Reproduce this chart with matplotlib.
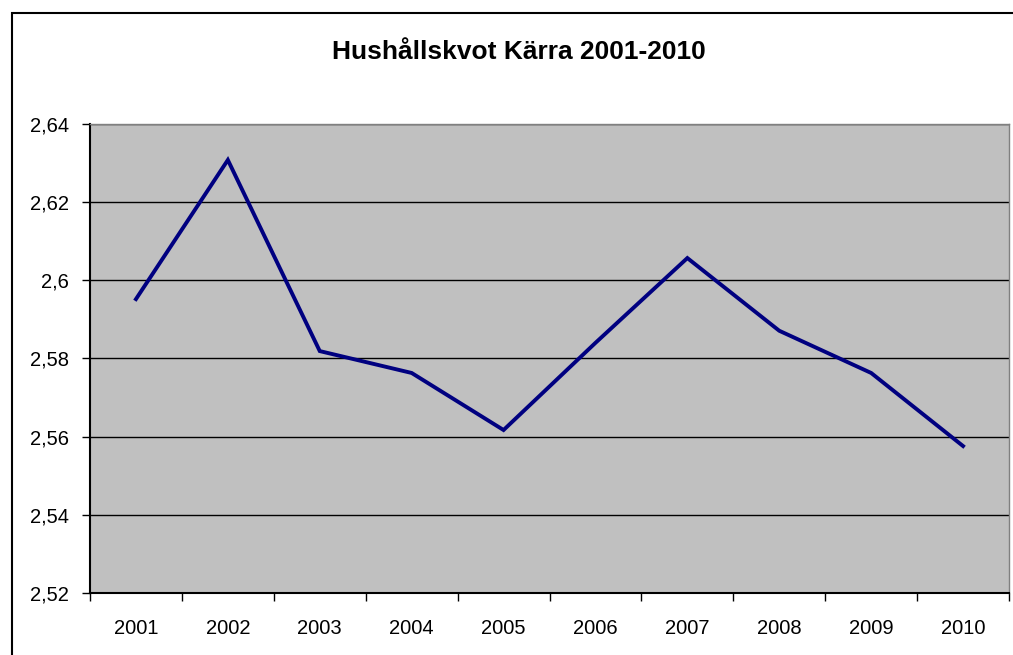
import matplotlib.pyplot as plt
from matplotlib.patches import Rectangle
from matplotlib.ticker import FixedLocator, FuncFormatter

years = ['2001', '2002', '2003', '2004', '2005', '2006', '2007', '2008', '2009', '2010']
hushallskvot = [2.5952, 2.6308, 2.5819, 2.5763, 2.5617, 2.5840, 2.6057, 2.5871, 2.5763, 2.5576]

plt.rcParams['font.family'] = ['Liberation Sans', 'DejaVu Sans']

W, H = 1013, 655
fig = plt.figure(figsize=(W / 100, H / 100), dpi=100)

# outer chart border (right and bottom edges are cut off in the original)
fig.patches.append(Rectangle((11.5 / W, -0.05), 1.1, 1 - 12.5 / H + 0.05,
                             transform=fig.transFigure, fill=False,
                             edgecolor='black', linewidth=1.5))

ax = fig.add_axes([90 / W, 1 - 593 / H, (1009 - 90) / W, (593 - 124) / H])
ax.set_facecolor('#c0c0c0')

x = range(len(years))
ax.plot(x, hushallskvot, color='#000080', linewidth=2.8, solid_joinstyle='miter')

ax.set_xlim(-0.5, len(years) - 0.5)
ax.set_ylim(2.52, 2.64)
ax.set_yticks([2.52, 2.54, 2.56, 2.58, 2.60, 2.62, 2.64])
ax.yaxis.set_major_formatter(FuncFormatter(lambda v, p: ('%g' % round(v, 2)).replace('.', ',')))
ax.yaxis.grid(True, color='black', linewidth=1)
ax.set_axisbelow(True)

# category boundaries get the tick marks, labels sit in between
ax.xaxis.set_major_locator(FixedLocator([i - 0.5 for i in range(len(years) + 1)]))
ax.xaxis.set_major_formatter(FuncFormatter(lambda v, p: ''))
ax.xaxis.set_minor_locator(FixedLocator(list(x)))
ax.set_xticklabels(years, minor=True)
ax.tick_params(axis='x', which='minor', length=0, pad=19, labelsize=14.5)
ax.tick_params(axis='x', which='major', length=6, width=1, direction='out')
ax.tick_params(axis='y', length=6, width=1, direction='out', labelsize=14.5, pad=9)

for side in ['top', 'right']:
    ax.spines[side].set_color('#808080')
    ax.spines[side].set_linewidth(1)
for side in ['left', 'bottom']:
    ax.spines[side].set_color('black')
    ax.spines[side].set_linewidth(1.5)

fig.text(519 / W, 1 - 52 / H, 'Hushållskvot Kärra 2001-2010',
         ha='center', va='center', fontsize=19, fontweight='bold')

plt.savefig('out.png', dpi=100)
